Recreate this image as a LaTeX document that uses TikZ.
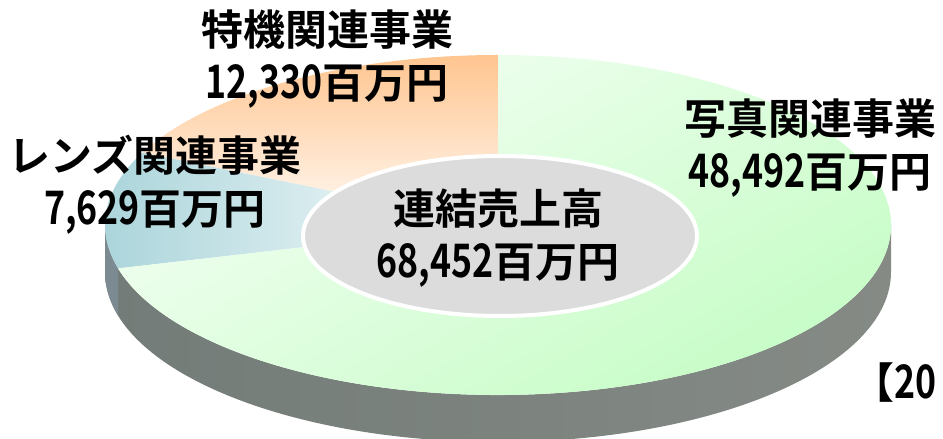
\documentclass[tikz,border=0pt]{standalone}
\usepackage{fontspec}
\setmainfont{Noto Sans CJK JP}[BoldFont={Noto Sans CJK JP Bold}]
\definecolor{sideL}{HTML}{737C78}
\definecolor{sideM}{HTML}{6B7E68}
\definecolor{sideR}{HTML}{858A85}
\definecolor{lensside}{HTML}{7C8A92}
\definecolor{orangetop}{HTML}{FFC590}
\definecolor{lenstop}{HTML}{A9D4DA}
\definecolor{greenlight}{HTML}{F4FFF4}
\definecolor{greendeep}{HTML}{C4FCC4}
\definecolor{holegray}{HTML}{DCDCDC}
\newcommand{\amt}[1]{\scalebox{0.85}[1.1]{#1}}
\tikzset{
lbl/.style={font=\bfseries\fontsize{42}{53}\selectfont, align=center, inner sep=0},
tokki/.style={top color=orangetop, bottom color=white!96!orange},
lens/.style={left color=lenstop, right color=white},
photo/.style={top color=greenlight, bottom color=greendeep, shading angle=30}
}
\begin{document}
\begin{tikzpicture}[x=1pt,y=1pt]
\useasboundingbox (0,0) rectangle (943,439);
\coordinate (c) at (498,214);
\coordinate (hole) at (500,203);
% side of the ring
\shade[left color=sideL, middle color=sideM, right color=sideR] ([shift={(180:393 and 170)}]c) arc[start angle=180,end angle=360,x radius=393,y radius=170] -- ++(0,-47) arc[start angle=360,end angle=180,x radius=393,y radius=170] -- cycle;
\fill[lensside] ([shift={(180:393 and 170)}]c) arc[start angle=180,end angle=194.8,x radius=393,y radius=170] -- ++(0,-47) arc[start angle=194.8,end angle=180,x radius=393,y radius=170] -- cycle;
% top of the slices
\foreach \a/\b/\s in {90/154.8/tokki, 154.8/194.8/lens, 194.8/450/photo} {
\shade[\s] (c) -- ([shift={(\a:393 and 170)}]c) arc[start angle=\a,end angle=\b,x radius=393,y radius=170] -- cycle;
}
\fill[holegray, draw=white, line width=4] (hole) ellipse [x radius=197, y radius=80];
\node[lbl] (tokkilbl) at (327,380) {特機関連事業\\\amt{12,330}百万円};
\node[lbl] (lenslbl) at (155,254) {レンズ関連事業\\\amt{7,629}百万円};
\node[lbl] (photolbl) at (810,291) {写真関連事業\\\amt{48,492}百万円};
\node[lbl] (total) at (498,201) {連結売上高\\\amt{68,452}百万円};
\node[lbl, anchor=west] (year) at (852,56) {【\amt{20}};
\end{tikzpicture}
\end{document}
